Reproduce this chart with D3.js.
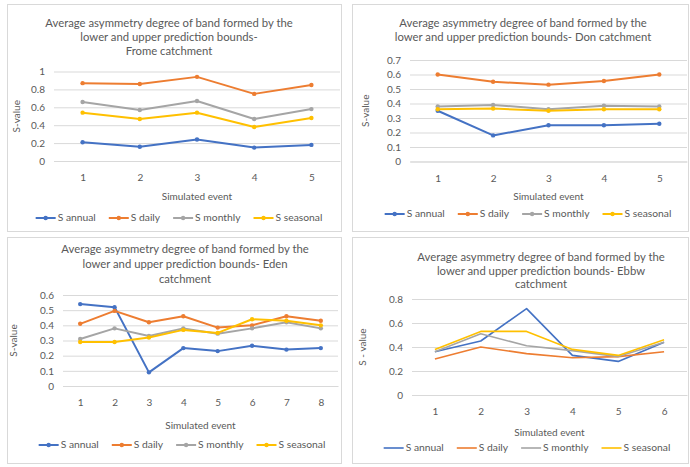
<!DOCTYPE html>
<html>
<head>
<meta charset="utf-8">
<script src="https://cdn.jsdelivr.net/npm/d3@7"></script>
<style>
  html, body { margin: 0; padding: 0; background: #fff; }
  svg { display: block; font-family: Lato, "Liberation Sans", sans-serif; }
</style>
</head>
<body>
<svg id="chart" width="690" height="467"></svg>
<script>
// Series shared by all four catchments
const seriesNames = ["S annual", "S daily", "S monthly", "S seasonal"];
const seriesColors = ["#4472C4", "#ED7D31", "#A5A5A5", "#FFC000"];

// Frome catchment
const fromeEvents = [1, 2, 3, 4, 5];
const fromeAnnual = [0.21, 0.16, 0.24, 0.15, 0.18];
const fromeDaily = [0.87, 0.86, 0.94, 0.75, 0.85];
const fromeMonthly = [0.66, 0.57, 0.67, 0.47, 0.58];
const fromeSeasonal = [0.54, 0.47, 0.54, 0.38, 0.48];
const fromeTicks = [0, 0.2, 0.4, 0.6, 0.8, 1];

// Don catchment
const donEvents = [1, 2, 3, 4, 5];
const donAnnual = [0.35, 0.18, 0.25, 0.25, 0.26];
const donDaily = [0.60, 0.55, 0.53, 0.555, 0.60];
const donMonthly = [0.38, 0.39, 0.36, 0.385, 0.38];
const donSeasonal = [0.36, 0.365, 0.35, 0.36, 0.36];
const donTicks = [0, 0.1, 0.2, 0.3, 0.4, 0.5, 0.6, 0.7];

// Eden catchment
const edenEvents = [1, 2, 3, 4, 5, 6, 7, 8];
const edenAnnual = [0.54, 0.52, 0.09, 0.25, 0.23, 0.265, 0.24, 0.25];
const edenDaily = [0.41, 0.495, 0.42, 0.46, 0.385, 0.40, 0.46, 0.43];
const edenMonthly = [0.31, 0.38, 0.33, 0.38, 0.345, 0.38, 0.42, 0.38];
const edenSeasonal = [0.29, 0.29, 0.32, 0.37, 0.35, 0.44, 0.43, 0.40];
const edenTicks = [0, 0.1, 0.2, 0.3, 0.4, 0.5, 0.6];

// Ebbw catchment
const ebbwEvents = [1, 2, 3, 4, 5, 6];
const ebbwAnnual = [0.36, 0.45, 0.72, 0.33, 0.28, 0.44];
const ebbwDaily = [0.30, 0.40, 0.345, 0.31, 0.32, 0.36];
const ebbwMonthly = [0.36, 0.51, 0.41, 0.37, 0.32, 0.44];
const ebbwSeasonal = [0.38, 0.53, 0.53, 0.38, 0.33, 0.46];
const ebbwTicks = [0, 0.2, 0.4, 0.6, 0.8];

const textColor = "#595959";
const gridColor = "#d9d9d9";
const svg = d3.select("#chart");

const panels = [
  {
    frame: [7, 4, 334, 227],
    title: ["Average asymmetry degree of band formed by the", "lower and upper prediction bounds-", "Frome catchment"],
    titleX: 169, titleY: 24, titleStep: 14,
    events: fromeEvents, series: [fromeAnnual, fromeDaily, fromeMonthly, fromeSeasonal],
    ticks: fromeTicks, yLabel: "S-value", yLabelX: 17,
    x0: 54, x1: 340, yBottom: 161, yTop: 71.5,
    xTitleY: 197, legendY: 218, legendCx: 179, markers: true, lineW: 2
  },
  {
    frame: [352, 4, 336, 227],
    title: ["Average asymmetry degree of band formed  by the", "lower and upper prediction bounds- Don catchment"],
    titleX: 523, titleY: 24, titleStep: 14,
    events: donEvents, series: [donAnnual, donDaily, donMonthly, donSeasonal],
    ticks: donTicks, yLabel: "S-value", yLabelX: 366,
    x0: 410, x1: 687, yBottom: 161.5, yTop: 60,
    xTitleY: 197, legendY: 214, legendCx: 528, markers: true, lineW: 2
  },
  {
    frame: [7, 237, 334, 226],
    title: ["Average asymmetry degree of band formed by the", "lower and upper prediction bounds- Eden", "catchment"],
    titleX: 185, titleY: 250, titleStep: 15,
    events: edenEvents, series: [edenAnnual, edenDaily, edenMonthly, edenSeasonal],
    ticks: edenTicks, yLabel: "S-value", yLabelX: 14,
    x0: 63, x1: 338, yBottom: 386, yTop: 295,
    xTitleY: 426, legendY: 445, legendCx: 182, markers: true, lineW: 2
  },
  {
    frame: [352, 237, 336, 226],
    title: ["Average asymmetry degree of band formed  by the", "lower and upper prediction bounds- Ebbw", "catchment"],
    titleX: 541, titleY: 258, titleStep: 13.5,
    events: ebbwEvents, series: [ebbwAnnual, ebbwDaily, ebbwMonthly, ebbwSeasonal],
    ticks: ebbwTicks, yLabel: "S - value", yLabelX: 363,
    x0: 412, x1: 687, yBottom: 395, yTop: 299,
    xTitleY: 433, legendY: 448, legendCx: 527, markers: false, lineW: 1.6
  }
];

panels.forEach(p => {
  const g = svg.append("g");

  // chart frame
  g.append("rect")
    .attr("x", p.frame[0] + 0.5).attr("y", p.frame[1] + 0.5)
    .attr("width", p.frame[2]).attr("height", p.frame[3])
    .attr("fill", "#fff").attr("stroke", gridColor);

  // title
  const title = g.append("text")
    .attr("x", p.titleX).attr("y", p.titleY)
    .attr("text-anchor", "middle").attr("dominant-baseline", "middle")
    .attr("font-size", 11.3)
    .attr("fill", textColor);
  p.title.forEach((line, i) => {
    title.append("tspan").attr("x", p.titleX).attr("dy", i === 0 ? 0 : p.titleStep).text(line);
  });

  const yMax = p.ticks[p.ticks.length - 1];
  const x = d3.scalePoint().domain(p.events).range([p.x0, p.x1]).padding(0.5);
  const y = d3.scaleLinear().domain([0, yMax]).range([p.yBottom, p.yTop]);

  // value axis with gridlines
  const yAxis = g.append("g")
    .attr("transform", `translate(${p.x0},0)`)
    .call(d3.axisLeft(y).tickValues(p.ticks).tickFormat(d => String(d))
      .tickSize(-(p.x1 - p.x0)).tickPadding(9));
  yAxis.select(".domain").remove();
  yAxis.selectAll("line").attr("stroke", gridColor);
  yAxis.selectAll("text").attr("fill", textColor).attr("font-size", 10)
    .attr("font-family", "Lato, 'Liberation Sans', sans-serif");

  // category axis
  const xAxis = g.append("g")
    .attr("transform", `translate(0,${p.yBottom})`)
    .call(d3.axisBottom(x).tickSize(0).tickPadding(13));
  xAxis.select(".domain").attr("stroke", gridColor);
  xAxis.selectAll("text").attr("fill", textColor).attr("font-size", 10)
    .attr("font-family", "Lato, 'Liberation Sans', sans-serif");

  // axis titles
  g.append("text")
    .attr("x", (p.x0 + p.x1) / 2).attr("y", p.xTitleY)
    .attr("text-anchor", "middle").attr("dominant-baseline", "middle")
    .attr("font-size", 10).attr("fill", textColor)
    .text("Simulated event");
  g.append("text")
    .attr("transform", `translate(${p.yLabelX},${(p.yBottom + p.yTop) / 2}) rotate(-90)`)
    .attr("text-anchor", "middle").attr("dominant-baseline", "middle")
    .attr("font-size", 10).attr("fill", textColor)
    .text(p.yLabel);

  // series lines and markers
  const line = d3.line().x((d, i) => x(p.events[i])).y(d => y(d));
  p.series.forEach((vals, si) => {
    g.append("path")
      .datum(vals)
      .attr("d", line)
      .attr("fill", "none")
      .attr("stroke", seriesColors[si])
      .attr("stroke-width", p.lineW)
      .attr("stroke-linejoin", "round");
    if (p.markers) {
      g.selectAll(null).data(vals).enter().append("circle")
        .attr("cx", (d, i) => x(p.events[i]))
        .attr("cy", d => y(d))
        .attr("r", 2.2)
        .attr("fill", seriesColors[si]);
    }
  });

  // legend, centred under the plot
  const legend = g.append("g");
  const items = seriesNames.map((name, si) => {
    const item = legend.append("g");
    item.append("line").attr("x1", 0).attr("x2", 20)
      .attr("y1", 0).attr("y2", 0)
      .attr("stroke", seriesColors[si]).attr("stroke-width", p.lineW);
    if (p.markers) {
      item.append("circle").attr("cx", 10).attr("cy", 0).attr("r", 2.2)
        .attr("fill", seriesColors[si]);
    }
    const t = item.append("text").attr("x", 22).attr("y", 0)
      .attr("dominant-baseline", "middle")
      .attr("font-size", 10.3).attr("fill", textColor).text(name);
    return { item, w: 22 + t.node().getComputedTextLength() };
  });
  const gap = 13;
  const total = d3.sum(items, d => d.w) + gap * (items.length - 1);
  let cx = p.legendCx - total / 2;
  items.forEach(d => {
    d.item.attr("transform", `translate(${cx},${p.legendY})`);
    cx += d.w + gap;
  });
});
</script>
</body>
</html>
